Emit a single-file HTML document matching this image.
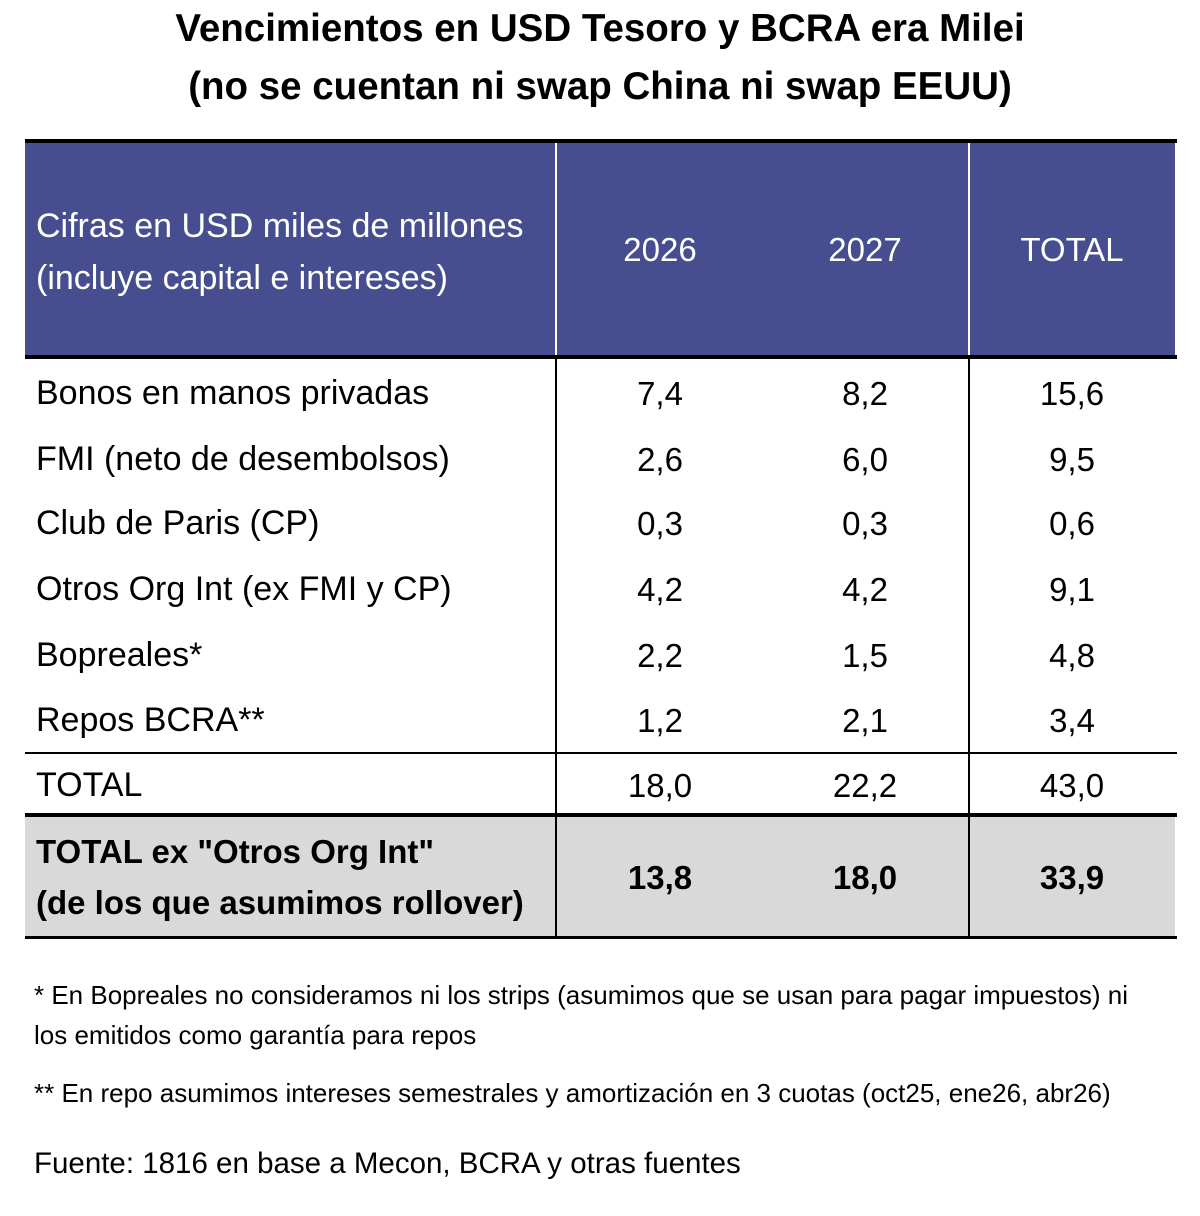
<!DOCTYPE html>
<html><head><meta charset="utf-8"><style>
body{margin:0;width:1200px;height:1216px;background:#fff;position:relative;font-family:"Liberation Sans",sans-serif;color:#000;overflow:hidden}
.a{position:absolute;white-space:nowrap}
.t{left:0;width:1200px;text-align:center;font-weight:bold;font-size:38.5px}
.l{left:36px;font-size:34px}
.n{font-size:33px;text-align:center;width:200px}
.h{position:absolute;background:#000}
.c1{left:560px}.c2{left:765px}.c3{left:972px}
</style></head><body>
<div class="a t" style="top:7px">Vencimientos en USD Tesoro y BCRA era Milei</div>
<div class="a t" style="top:65px">(no se cuentan ni swap China ni swap EEUU)</div>
<div class="a" style="left:25px;top:143px;width:1150px;height:214px;background:#474E8F"></div>
<div class="a" style="left:555px;top:143px;width:2px;height:214px;background:#fff"></div>
<div class="a" style="left:968px;top:143px;width:2px;height:214px;background:#fff"></div>
<div class="h" style="left:25px;top:139px;width:1152px;height:4px"></div>
<div class="h" style="left:25px;top:355px;width:1152px;height:4px"></div>
<div class="a l" style="top:200px;color:#fff;line-height:52px">Cifras en USD miles de millones<br>(incluye capital e intereses)</div>
<div class="a n c1" style="top:231px;color:#fff">2026</div>
<div class="a n c2" style="top:231px;color:#fff">2027</div>
<div class="a n c3" style="top:231px;color:#fff">TOTAL</div>
<div class="a" style="left:25px;top:817px;width:1150px;height:120px;background:#d9d9d9"></div>
<div class="h" style="left:555px;top:357px;width:2px;height:581px"></div>
<div class="h" style="left:968px;top:357px;width:2px;height:581px"></div>
<div class="h" style="left:25px;top:752px;width:1152px;height:2px"></div>
<div class="h" style="left:25px;top:813px;width:1152px;height:4px"></div>
<div class="h" style="left:25px;top:936px;width:1152px;height:3px"></div>

<div class="a l" style="top:374px">Bonos en manos privadas</div><div class="a n c1" style="top:375px">7,4</div><div class="a n c2" style="top:375px">8,2</div><div class="a n c3" style="top:375px">15,6</div>
<div class="a l" style="top:440px">FMI (neto de desembolsos)</div><div class="a n c1" style="top:441px">2,6</div><div class="a n c2" style="top:441px">6,0</div><div class="a n c3" style="top:441px">9,5</div>
<div class="a l" style="top:504px">Club de Paris (CP)</div><div class="a n c1" style="top:505px">0,3</div><div class="a n c2" style="top:505px">0,3</div><div class="a n c3" style="top:505px">0,6</div>
<div class="a l" style="top:570px">Otros Org Int (ex FMI y CP)</div><div class="a n c1" style="top:571px">4,2</div><div class="a n c2" style="top:571px">4,2</div><div class="a n c3" style="top:571px">9,1</div>
<div class="a l" style="top:636px">Bopreales*</div><div class="a n c1" style="top:637px">2,2</div><div class="a n c2" style="top:637px">1,5</div><div class="a n c3" style="top:637px">4,8</div>
<div class="a l" style="top:701px">Repos BCRA**</div><div class="a n c1" style="top:702px">1,2</div><div class="a n c2" style="top:702px">2,1</div><div class="a n c3" style="top:702px">3,4</div>
<div class="a l" style="top:766px">TOTAL</div><div class="a n c1" style="top:767px">18,0</div><div class="a n c2" style="top:767px">22,2</div><div class="a n c3" style="top:767px">43,0</div>
<div class="a l" style="top:826px;font-weight:bold;line-height:51px;font-size:33px">TOTAL ex "Otros Org Int"<br>(de los que asumimos rollover)</div>
<div class="a n c1" style="top:859px;font-weight:bold">13,8</div><div class="a n c2" style="top:859px;font-weight:bold">18,0</div><div class="a n c3" style="top:859px;font-weight:bold">33,9</div>

<div class="a" style="left:34px;top:975px;font-size:26px;line-height:40px">* En Bopreales no consideramos ni los strips (asumimos que se usan para pagar impuestos) ni<br>los emitidos como garantía para repos</div>
<div class="a" style="left:34px;top:1078px;font-size:26px">** En repo asumimos intereses semestrales y amortización en 3 cuotas (oct25, ene26, abr26)</div>
<div class="a" style="left:34px;top:1147px;font-size:29.5px">Fuente: 1816 en base a Mecon, BCRA y otras fuentes</div>
</body></html>
